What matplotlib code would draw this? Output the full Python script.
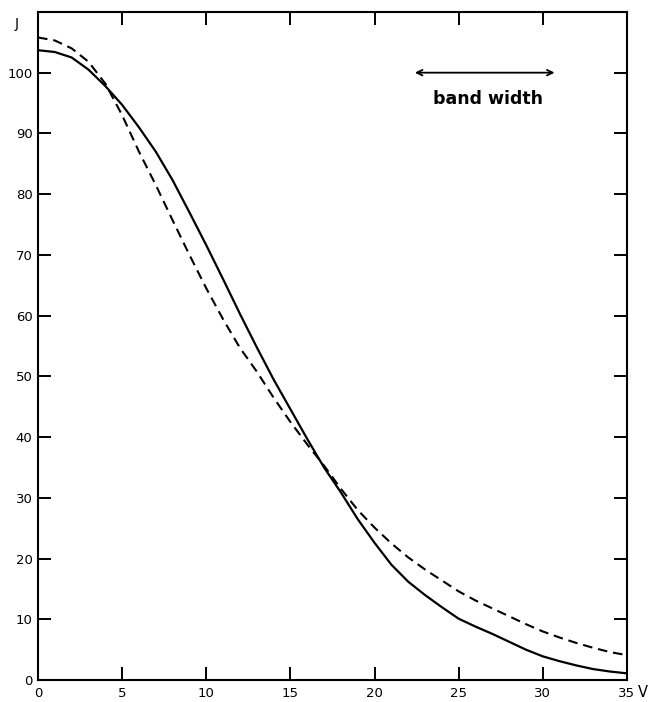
import matplotlib
matplotlib.use("Agg")
import matplotlib.pyplot as plt
from matplotlib.transforms import blended_transform_factory

# Values, J as a function of V
v = [0, 1, 2, 3, 4, 5, 6, 7, 8, 9, 10, 11, 12, 13, 14, 15, 16, 17,
     18, 19, 20, 21, 22, 23, 24, 25, 26, 27, 28, 29, 30, 31, 32, 33, 34, 35]
j_solid = [103.7, 103.4, 102.5, 100.5, 97.8, 94.7, 91.0, 87.0, 82.3, 77.0,
           71.6, 66.0, 60.3, 54.8, 49.5, 44.6, 39.7, 35.0, 30.9, 26.5,
           22.6, 19.0, 16.2, 14.0, 12.0, 10.1, 8.8, 7.6, 6.3, 5.0,
           3.9, 3.1, 2.4, 1.8, 1.4, 1.1]
j_dashed = [105.8, 105.3, 104.0, 101.8, 98.2, 93.0, 87.0, 81.5, 75.7, 70.0,
            64.5, 59.4, 54.7, 50.8, 46.5, 42.5, 38.8, 35.3, 31.5, 28.0,
            25.1, 22.5, 20.2, 18.2, 16.4, 14.6, 13.1, 11.8, 10.5, 9.2,
            8.0, 7.0, 6.1, 5.3, 4.6, 4.1]

x_ticks = [0, 5, 10, 15, 20, 25, 30, 35]
x_tick_labels = ["0", "5", "10", "15", "20", "25", "30", "35"]
y_ticks = [0, 10, 20, 30, 40, 50, 60, 70, 80, 90, 100]
y_tick_labels = [str(t) for t in y_ticks]

band_start, band_end, band_level = 22.4, 30.7, 100.0

fig = plt.figure(figsize=(6.53, 7.02), dpi=100)
ax = fig.add_axes([0.0582, 0.0313, 0.9018, 0.9517])

ax.plot(v, j_solid, color="black", lw=1.6, solid_capstyle="round")
ax.plot(v, j_dashed, color="black", lw=1.5, dashes=(4.6, 2.8))

ax.set_xlim(0, 35)
ax.set_ylim(0, 110)

for s in ax.spines.values():
    s.set_linewidth(1.5)

ax.set_xticks(x_ticks)
ax.set_xticklabels(x_tick_labels)
ax.set_yticks(y_ticks)
ax.set_yticklabels(y_tick_labels)
ax.tick_params(axis="both", direction="in", length=9.5, width=1.4,
               top=True, right=True, labelsize=9.5, pad=4)
ax.tick_params(axis="x", pad=5)

# axis symbols
trans_x = blended_transform_factory(ax.transAxes, ax.transAxes)
ax.text(-0.036, 0.982, "J", transform=trans_x, fontsize=10,
        ha="center", va="center")
ax.text(1.027, -0.019, "V", transform=trans_x, fontsize=10.5,
        ha="center", va="center")

# band width marker
ax.annotate("", xy=(band_start, band_level), xytext=(band_end, band_level),
            arrowprops=dict(arrowstyle="<->", color="black", lw=1.3,
                            shrinkA=0, shrinkB=0, mutation_scale=10))
ax.text((band_start + band_end) / 2 + 0.2, band_level - 4.3, "band width",
        fontsize=12.5, fontweight="semibold", ha="center", va="center")

fig.savefig("out.png", dpi=100)
